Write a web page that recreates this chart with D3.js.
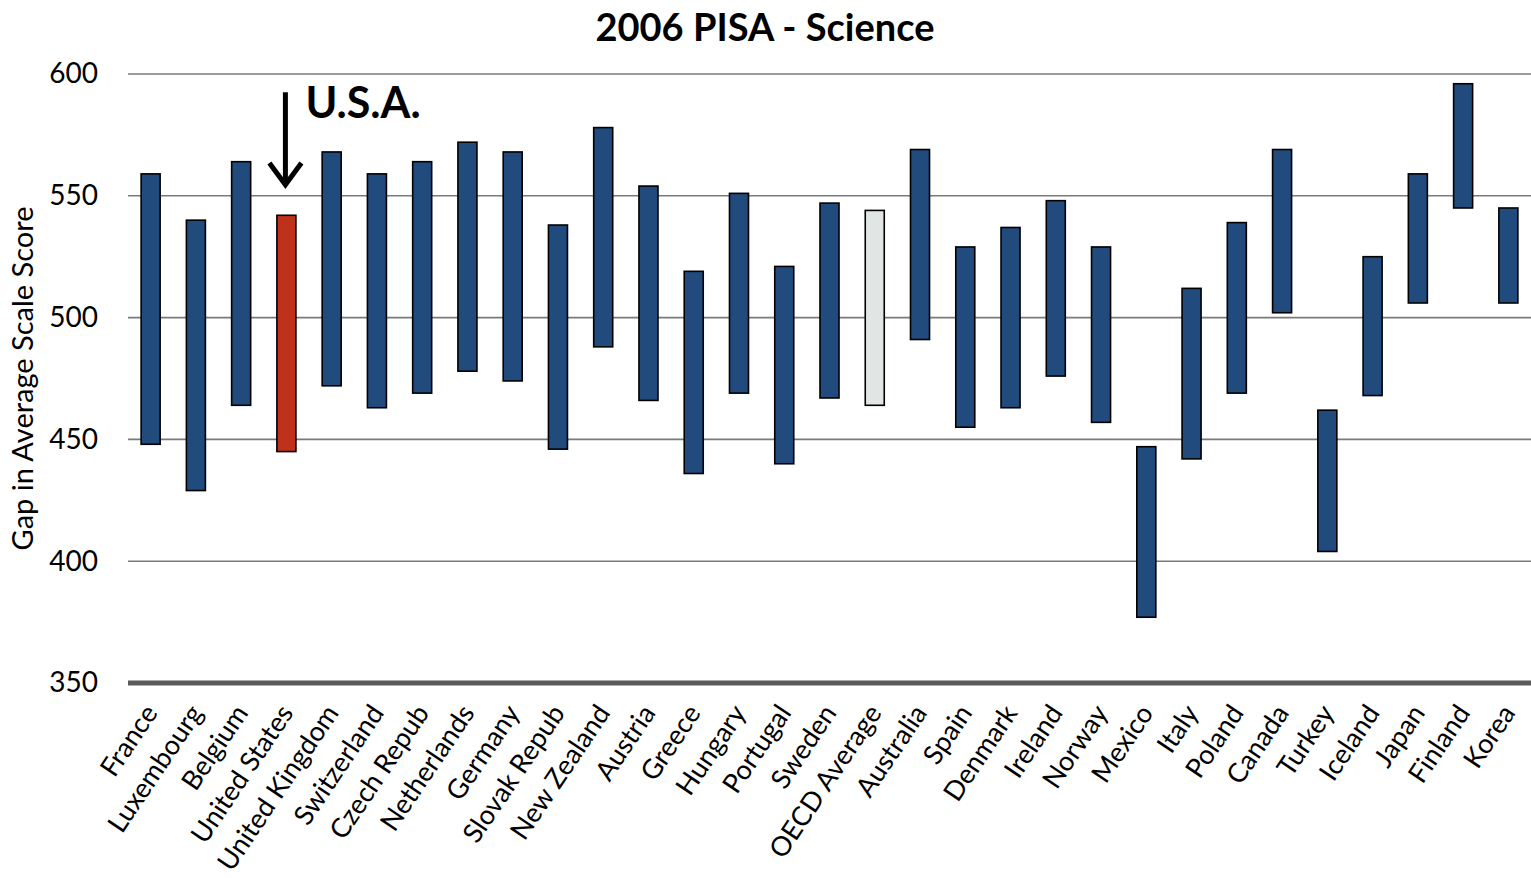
<!DOCTYPE html>
<html>
<head>
<meta charset="utf-8">
<script src="https://cdn.jsdelivr.net/npm/d3@7"></script>
<style>
  body { margin: 0; background: #fff; }
  svg { font-family: Lato, "Open Sans", sans-serif; }
</style>
</head>
<body>
<svg></svg>
<script>
// countries, left to right
var countries = ["France", "Luxembourg", "Belgium", "United States", "United Kingdom",
    "Switzerland", "Czech Repub", "Netherlands", "Germany", "Slovak Repub", "New Zealand",
    "Austria", "Greece", "Hungary", "Portugal", "Sweden", "OECD Average", "Australia",
    "Spain", "Denmark", "Ireland", "Norway", "Mexico", "Italy", "Poland", "Canada",
    "Turkey", "Iceland", "Japan", "Finland", "Korea"];

// top and bottom of each floating bar
var highScores = [559, 540, 564, 542, 568, 559, 564, 572, 568, 538, 578,
    554, 519, 551, 521, 547, 544, 569, 529, 537, 548, 529, 447, 512, 539, 569,
    462, 525, 559, 596, 545];
var lowScores = [448, 429, 464, 445, 472, 463, 469, 478, 474, 446, 488,
    466, 436, 469, 440, 467, 464, 491, 455, 463, 476, 457, 377, 442, 469, 502,
    404, 468, 506, 545, 506];

var yTicks = [350, 400, 450, 500, 550, 600];

var width = 1531, height = 878;
var margin = { top: 74, right: 0, bottom: 195, left: 128 };

var svg = d3.select("svg")
    .attr("width", width)
    .attr("height", height);

var x = d3.scaleBand()
    .domain(countries)
    .range([margin.left, width - margin.right])
    .paddingInner(0.58)
    .paddingOuter(0.29);

var y = d3.scaleLinear()
    .domain([350, 600])
    .range([height - margin.bottom, margin.top]);

function barColor(name) {
    if (name == "United States") return "#C0311C";
    if (name == "OECD Average") return "#E1E6E4";
    return "#214A7D";
}

// grid lines
svg.append("g")
    .selectAll("line")
    .data(yTicks.filter(function (d) { return d > 350; }))
    .enter()
    .append("line")
    .attr("x1", margin.left)
    .attr("x2", width)
    .attr("y1", function (d) { return y(d); })
    .attr("y2", function (d) { return y(d); })
    .style("stroke", "#7a7a7a")
    .style("stroke-width", 1.6);

// y axis labels
var yAxis = svg.append("g")
    .attr("transform", "translate(" + (margin.left - 30) + ",0)")
    .call(d3.axisLeft(y).tickValues(yTicks).tickSize(0).tickPadding(0));
yAxis.select(".domain").remove();
yAxis.selectAll("text")
    .style("font-size", "28px")
    .style("font-family", "Lato, sans-serif")
    .style("fill", "#000");

// bars
svg.append("g")
    .selectAll("rect")
    .data(countries)
    .enter()
    .append("rect")
    .attr("x", function (d) { return x(d); })
    .attr("width", x.bandwidth())
    .attr("y", function (d, i) { return y(highScores[i]); })
    .attr("height", function (d, i) { return y(lowScores[i]) - y(highScores[i]); })
    .style("fill", barColor)
    .style("stroke", "#000")
    .style("stroke-width", 1.6);

// base line at 350
svg.append("line")
    .attr("x1", margin.left)
    .attr("x2", width)
    .attr("y1", y(350))
    .attr("y2", y(350))
    .style("stroke", "#5a5a5a")
    .style("stroke-width", 5);

// country labels
svg.append("g")
    .selectAll("text")
    .data(countries)
    .enter()
    .append("text")
    .attr("transform", function (d) {
        return "translate(" + (x(d) + x.bandwidth() / 2 + 8) + "," + (y(350) + 30) + ") rotate(-56)";
    })
    .attr("text-anchor", "end")
    .style("font-size", "27px")
    .text(function (d) { return d; });

// title
svg.append("text")
    .attr("x", 765)
    .attr("y", 41)
    .attr("text-anchor", "middle")
    .style("font-size", "38px")
    .style("font-weight", "bold")
    .text("2006 PISA - Science");

// y axis title
svg.append("text")
    .attr("transform", "translate(33," + y(475) + ") rotate(-90)")
    .attr("text-anchor", "middle")
    .style("font-size", "29px")
    .text("Gap in Average Scale Score");

// U.S.A. arrow
var usX = x("United States") + x.bandwidth() / 2 - 1;
var arrow = svg.append("g")
    .style("stroke", "#000")
    .style("stroke-width", 5)
    .style("fill", "none");
arrow.append("line")
    .attr("x1", usX).attr("x2", usX)
    .attr("y1", y(592.5)).attr("y2", y(554.5));
arrow.append("path")
    .attr("d", "M" + (usX - 16) + "," + y(563.5) + "L" + usX + "," + y(554.5) + "L" + (usX + 16) + "," + y(563.5))
    .style("stroke-linejoin", "miter");

svg.append("text")
    .attr("x", usX + 20)
    .attr("y", 118)
    .style("font-size", "43px")
    .style("font-weight", "bold")
    .text("U.S.A.");
</script>
</body>
</html>
